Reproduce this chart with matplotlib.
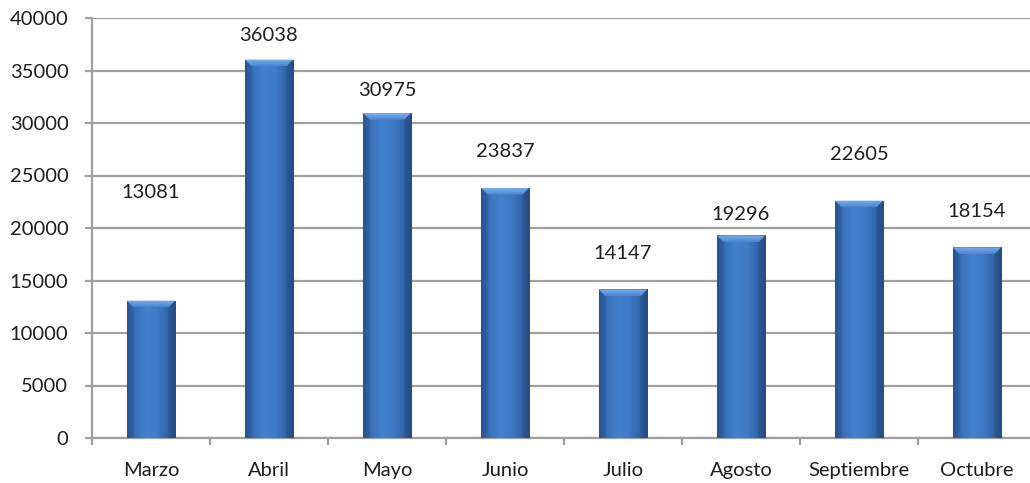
import numpy as np
import matplotlib
matplotlib.use("Agg")
import matplotlib.pyplot as plt
from matplotlib.colors import LinearSegmentedColormap
from matplotlib.patches import Polygon

categories = ["Marzo", "Abril", "Mayo", "Junio", "Julio", "Agosto", "Septiembre", "Octubre"]
values = [13081, 36038, 30975, 23837, 14147, 19296, 22605, 18154]
yticks = [0, 5000, 10000, 15000, 20000, 25000, 30000, 35000, 40000]
# vertical offset of each data label above its bar (points)
label_offsets = [72, 11, 10, 20, 20, 9, 27, 20]

plt.rcParams['font.family'] = ['Lato', 'DejaVu Sans']
FS = 14.5
TXT = "#1e1e1e"

W, H = 1030, 483
fig = plt.figure(figsize=(W / 100, H / 100), dpi=100)
ax = fig.add_axes([92 / W, (H - 438) / H, (1036 - 92) / W, 420 / H])

x = np.arange(len(categories))
bw = 0.41
bars = ax.bar(x, values, width=bw, color="#3a74bf", zorder=3)

ax.set_xlim(-0.5, len(categories) - 0.5)
ax.set_ylim(0, 40000)
ax.set_yticks(yticks)
ax.set_yticklabels([str(t) for t in yticks])
ax.set_xticks(x)
ax.set_xticklabels(categories)
ax.set_xticks(np.arange(len(categories) + 1) - 0.5, minor=True)

grid_c = "#a0a0a0"
ax.grid(axis="y", color=grid_c, linewidth=1.6, zorder=0)
for s in ["top", "right"]:
    ax.spines[s].set_visible(False)
for s in ["left", "bottom"]:
    ax.spines[s].set_color(grid_c)
    ax.spines[s].set_linewidth(1.6)

ax.tick_params(axis="y", length=5, width=1.6, color=grid_c, pad=12, labelsize=FS, labelcolor=TXT)
ax.tick_params(axis="x", which="major", length=0, pad=17, labelsize=FS, labelcolor=TXT)
ax.tick_params(axis="x", which="minor", length=5, width=1.6, color=grid_c)

# cylinder-like horizontal gradient
cmap = LinearSegmentedColormap.from_list(
    "bar", ["#2b5796", "#3a73bd", "#4280cd", "#3f7bc7", "#356aaf", "#284f88"])
grad = np.linspace(0, 1, 256).reshape(1, -1)
vgrad = np.linspace(0, 1, 64).reshape(-1, 1)
bev_cmap = LinearSegmentedColormap.from_list("bev", ["#4a86d0", "#78aeea"])
for b in bars:
    x0, y0 = b.get_x(), b.get_y()
    w, h = b.get_width(), b.get_height()
    im = ax.imshow(grad, cmap=cmap, aspect="auto",
                   extent=[x0, x0 + w, y0, y0 + h], zorder=3.5)
    im.set_clip_path(b)
    dx = w * 0.14
    dy = 650
    # side shading
    ax.add_patch(Polygon([[x0, y0 + h], [x0 + dx, y0 + h - dy], [x0 + dx, y0],
                          [x0, y0]], closed=True, facecolor="#1f4478",
                         edgecolor="none", alpha=0.18, zorder=4))
    ax.add_patch(Polygon([[x0 + w, y0 + h], [x0 + w - dx, y0 + h - dy], [x0 + w - dx, y0],
                          [x0 + w, y0]], closed=True, facecolor="#1a3a68",
                         edgecolor="none", alpha=0.22, zorder=4))
    # top bevel
    bevel = Polygon([[x0, y0 + h], [x0 + w, y0 + h], [x0 + w - dx, y0 + h - dy],
                     [x0 + dx, y0 + h - dy]], closed=True,
                    facecolor="none", edgecolor="none", zorder=4.5)
    ax.add_patch(bevel)
    bim = ax.imshow(vgrad, cmap=bev_cmap, aspect="auto", origin="lower",
                    extent=[x0, x0 + w, y0 + h - dy, y0 + h], zorder=4.5)
    bim.set_clip_path(bevel)
ax.set_xlim(-0.5, len(categories) - 0.5)
ax.set_ylim(0, 40000)

for xi, v, off in zip(x, values, label_offsets):
    ax.annotate(str(v), (xi, v), xytext=(0, off), textcoords="offset points",
                ha="center", va="bottom", fontsize=FS, color=TXT, zorder=5)

fig.savefig("out.png", dpi=100)
